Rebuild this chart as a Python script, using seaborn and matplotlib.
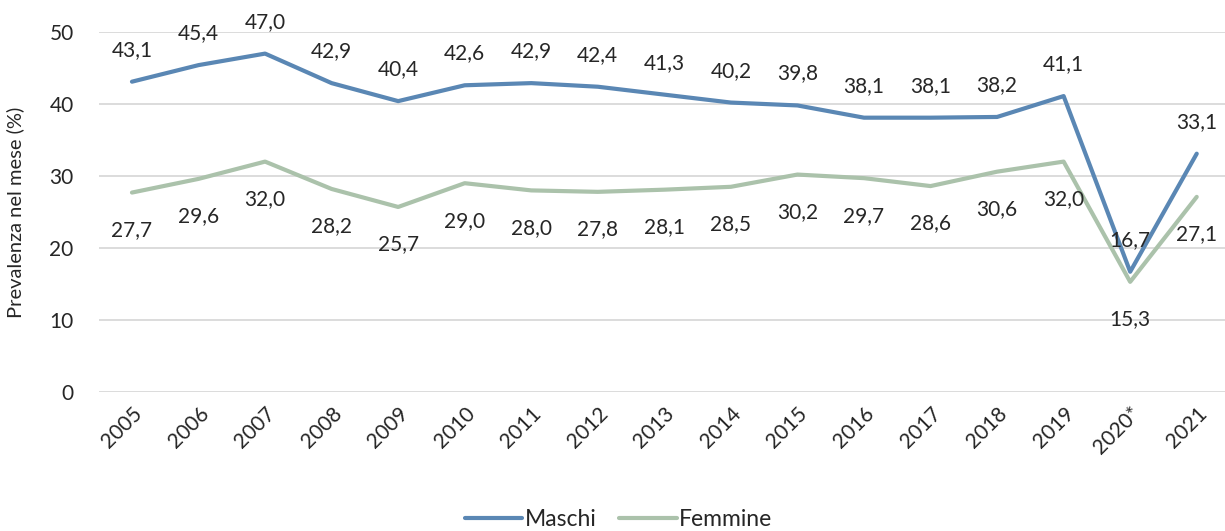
import matplotlib
matplotlib.use("Agg")
import matplotlib.pyplot as plt
import seaborn as sns
import pandas as pd
from matplotlib.lines import Line2D

years = ["2005", "2006", "2007", "2008", "2009", "2010", "2011", "2012", "2013",
         "2014", "2015", "2016", "2017", "2018", "2019", "2020*", "2021"]
maschi = [43.1, 45.4, 47.0, 42.9, 40.4, 42.6, 42.9, 42.4, 41.3,
          40.2, 39.8, 38.1, 38.1, 38.2, 41.1, 16.7, 33.1]
femmine = [27.7, 29.6, 32.0, 28.2, 25.7, 29.0, 28.0, 27.8, 28.1,
           28.5, 30.2, 29.7, 28.6, 30.6, 32.0, 15.3, 27.1]
series_names = ["Maschi", "Femmine"]
colors = ["#5A87B4", "#ABC2AB"]
y_ticks = [0, 10, 20, 30, 40, 50]
y_label = "Prevalenza nel mese (%)"

sns.set_style("white")
plt.rcParams["font.family"] = ["Lato", "DejaVu Sans"]

df = pd.DataFrame({
    "anno": years * 2,
    "pos": list(range(len(years))) * 2,
    "valore": maschi + femmine,
    "sesso": [series_names[0]] * len(years) + [series_names[1]] * len(years),
})

FS = 15

fig = plt.figure(figsize=(12.25, 5.31), dpi=100)
ax = fig.add_axes([98.7 / 1225, 1 - 392 / 531, (1230 - 98.7) / 1225, (392 - 32) / 531])

sns.lineplot(data=df, x="pos", y="valore", hue="sesso", hue_order=series_names,
             palette=colors, linewidth=3.0, ax=ax, legend=False, zorder=3)

ax.set_xlim(-0.5, len(years) - 0.5)
ax.set_ylim(0, 50)
ax.set_yticks(y_ticks)
ax.set_xticks(range(len(years)))
ax.set_xticklabels(years, rotation=45, ha="right", rotation_mode="anchor")
ax.tick_params(axis="both", length=0, labelsize=FS)
ax.tick_params(axis="y", pad=18)
ax.tick_params(axis="x", pad=8)
ax.grid(axis="y", color="#D9D9D9", linewidth=1.3)
ax.grid(axis="x", visible=False)
for s in ax.spines.values():
    s.set_visible(False)
ax.set_xlabel("")
ax.set_ylabel(y_label, fontsize=14.5)
ax.yaxis.set_label_coords(-0.066, 0.5)

def fmt(v):
    return f"{v:.1f}".replace(".", ",")

for i, v in enumerate(maschi):
    ax.annotate(fmt(v), (i, v), xytext=(0, 23), textcoords="offset points",
                ha="center", va="center", fontsize=FS, annotation_clip=False)
for i, v in enumerate(femmine):
    ax.annotate(fmt(v), (i, v), xytext=(0, -27), textcoords="offset points",
                ha="center", va="center", fontsize=FS, annotation_clip=False)

handles = [Line2D([0], [0], color=c, linewidth=3.0, solid_capstyle="round") for c in colors]
fig.legend(handles, series_names, loc="center", bbox_to_anchor=(0.505, 0.022),
           ncol=2, frameon=False, fontsize=16.5, handlelength=2.5,
           handletextpad=0.1, columnspacing=1.0)

fig.savefig("out.png", dpi=100)
